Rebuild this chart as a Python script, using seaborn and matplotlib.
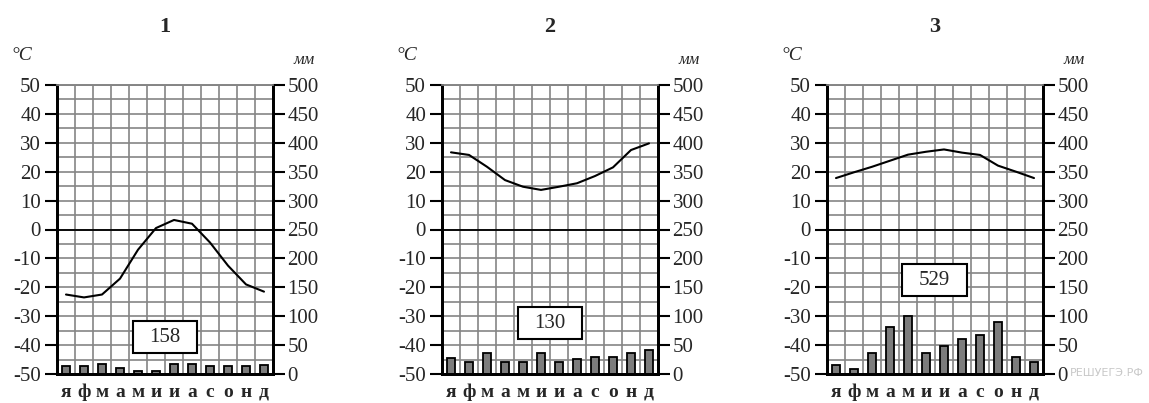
import numpy as np
import matplotlib
matplotlib.use('Agg')
import matplotlib.pyplot as plt
from matplotlib.patches import Rectangle
import seaborn as sns

sns.set_style('white')
plt.rcParams['font.family'] = ['Liberation Serif', 'DejaVu Serif']
plt.rcParams['axes.unicode_minus'] = False

# ============================================================
# DATA
# ============================================================
month_labels = ['я', 'ф', 'м', 'а', 'м', 'и', 'и', 'а', 'с', 'о', 'н', 'д']
month_idx = list(range(12))

temp_1 = [-22.5, -23.5, -22.5, -17, -7, 0.5, 3.3, 2.0, -4.5, -12.5, -19, -21.5]
temp_2 = [26.7, 25.8, 21.7, 17.1, 14.8, 13.7, 14.8, 16.0, 18.5, 21.5, 27.5, 29.8]
temp_3 = [17.8, 19.8, 21.7, 23.8, 25.9, 26.9, 27.7, 26.6, 25.8, 22.1, 20.0, 17.8]

precip_1 = [14, 14, 18, 11, 6, 6, 17, 17, 13, 14, 13, 15]
precip_2 = [27, 20, 37, 20, 20, 37, 20, 26, 30, 30, 36, 41]
precip_3 = [15, 9, 36, 81, 100, 36, 49, 60, 67, 90, 29, 20]

totals = [158, 130, 529]
titles = ['1', '2', '3']

temp_ticks = list(range(-50, 51, 10))
precip_ticks = list(range(0, 501, 50))

# ============================================================
# LAYOUT
# ============================================================
W, H = 1149, 403
lefts = [57, 442, 827]
ax_w, ax_top, ax_bot = 216, 85, 374
box_pos = [(5.5, -37.2), (5.5, -32.4), (5.45, -17.5)]   # centre of total box (col, degC)
box_size = (3.6, 11.0)

grid_c = '#858585'
fig = plt.figure(figsize=(W / 100, H / 100), dpi=100)

panels = [(temp_1, precip_1), (temp_2, precip_2), (temp_3, precip_3)]

for i, (temps, precs) in enumerate(panels):
    left = lefts[i]
    ax = fig.add_axes([left / W, (H - ax_bot) / H, ax_w / W, (ax_bot - ax_top) / H])
    ax2 = ax.twinx()

    # precipitation bars on the right-hand scale
    sns.barplot(x=month_idx, y=precs, ax=ax2, color='#7c7c7c', edgecolor='black',
                linewidth=1.3, width=0.45, saturation=1)
    # temperature curve
    sns.lineplot(x=month_idx, y=temps, ax=ax, color='black', lw=1.5)

    ax.set_xlim(-0.5, 11.5)
    ax.set_ylim(-50, 50)
    ax2.set_ylim(0, 500)
    ax.set_yticks(temp_ticks)
    ax.set_yticks(np.arange(-50, 51, 5), minor=True)
    ax2.set_yticks(precip_ticks)
    ax.set_xticks(month_idx)
    ax.set_xticks(np.arange(-0.5, 12, 1), minor=True)
    ax.set_xticklabels(month_labels, fontweight='bold', fontsize=14)
    ax.set_xlabel('')
    ax2.set_xlabel('')
    ax.set_ylabel('')
    ax2.set_ylabel('')
    ax.set_xlim(-0.5, 11.5)

    ax.grid(False)
    ax2.grid(False)
    ax.grid(True, axis='x', which='minor', color=grid_c, lw=1.2)
    ax.grid(True, axis='y', which='both', color=grid_c, lw=1.2)
    ax.axhline(0, color='black', lw=1.3, zorder=3)

    ax.tick_params(axis='x', which='both', length=0, pad=7)
    ax.tick_params(axis='y', which='major', length=8.5, width=1.5, color='black',
                   labelsize=15, pad=3)
    ax.tick_params(axis='y', which='minor', length=0)
    ax2.tick_params(axis='y', which='major', length=8.5, width=1.5, color='black',
                    labelsize=15, pad=2)

    for a in (ax, ax2):
        for side in ('left', 'right', 'bottom'):
            a.spines[side].set_color('black')
            a.spines[side].set_linewidth(2.0)
        a.spines['top'].set_color(grid_c)
        a.spines['top'].set_linewidth(1.2)

    # annual precipitation total box
    bx, by = box_pos[i]
    ax.add_patch(Rectangle((bx - box_size[0] / 2, by - box_size[1] / 2), box_size[0], box_size[1],
                           facecolor='white', edgecolor='black', lw=1.5, zorder=5))
    ax.text(bx, by, str(totals[i]), ha='center', va='center', fontsize=15, zorder=6)

    # titles and unit labels
    fig.text((left + ax_w / 2) / W, 1 - 27 / H, titles[i], ha='center', va='center',
             fontsize=16, fontweight='bold')
    fig.text((left - 35) / W, 1 - 56 / H, '°C', ha='center', va='center',
             fontsize=14, style='italic')
    fig.text((left + 247) / W, 1 - 60 / H, 'мм', ha='center', va='center',
             fontsize=12, style='italic')

fig.text(1070 / W, 1 - 373 / H, 'РЕШУЕГЭ.РФ', ha='left', va='center',
         fontsize=8, color='#c8c8c8', family='DejaVu Sans')

fig.savefig('out.png', dpi=100)
